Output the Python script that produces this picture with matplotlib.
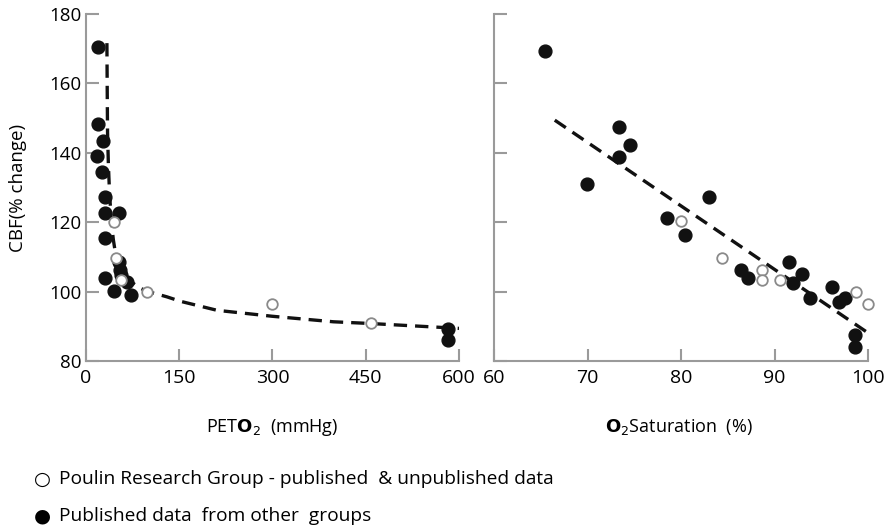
import numpy as np
import matplotlib
matplotlib.use("Agg")
import matplotlib.pyplot as plt

# CBF response vs end-tidal PO2 (left) and O2 saturation (right)
peto2_other = [18.7, 18.7, 17.6, 26.7, 25.6, 31, 31, 53.4, 31, 31, 45.4, 53.4, 55, 56, 65.7, 72, 582, 582]
cbf_peto2_other = [170.6, 148.3, 139.1, 143.5, 134.4, 127.2, 122.6, 122.6, 115.4, 103.8, 100.3, 108.6, 106.3, 104.7, 102.7, 99.0, 89.1, 86.0]
peto2_poulin = [44.3, 49, 56, 98.8, 299, 458]
cbf_peto2_poulin = [120.0, 109.6, 103.4, 99.9, 96.3, 91.0]
# dashed fit through PETO2 data
peto2_fit = [33.7, 34.2, 34.7, 36, 38, 41, 44, 46.6, 52, 58, 65.4, 75, 86.9, 100, 130, 152, 211, 299, 398, 458, 600]
cbf_peto2_fit = [171.6, 158, 146, 137, 128, 120, 115, 112, 108.5, 106, 104.3, 102.5, 101.0, 100, 98.5, 97.2, 94.6, 92.9, 91.3, 90.8, 89.4]

sat_other = [65.5, 73.4, 73.4, 74.5, 69.9, 83.0, 78.5, 80.4, 86.4, 87.2, 91.6, 92.0, 92.9, 93.8, 96.1, 96.9, 97.5, 98.6, 98.6]
cbf_sat_other = [169.3, 147.3, 138.9, 142.3, 131.0, 127.2, 121.1, 116.3, 106.3, 103.8, 108.4, 102.6, 105.0, 98.1, 101.4, 96.9, 98.1, 87.5, 83.9]
sat_poulin = [80.0, 84.4, 88.7, 88.7, 90.6, 98.7, 100]
cbf_sat_poulin = [120.2, 109.6, 106.1, 103.2, 103.3, 100.0, 96.3]
sat_fit = [66.5, 100]
cbf_sat_fit = [149.4, 88.1]

grey = '#9a9a9a'
plt.rcParams['font.family'] = ['Open Sans', 'DejaVu Sans']

fig = plt.figure(figsize=(8.88, 5.26), dpi=100)
ax1 = fig.add_axes([0.0968, 0.3137, 0.4201, 0.6597])
ax2 = fig.add_axes([0.5563, 0.3137, 0.4212, 0.6597])

def style(ax):
    for s in ['top', 'right']:
        ax.spines[s].set_visible(False)
    for s in ['left', 'bottom']:
        ax.spines[s].set_color(grey)
        ax.spines[s].set_linewidth(1.5)
    ax.tick_params(direction='in', length=9, width=1.5, color=grey, labelsize=13.5)
    ax.tick_params(axis='x', pad=6, labelsize=14)
    ax.set_ylim(80, 180)
    ax.set_yticks([80, 100, 120, 140, 160, 180])

ax1.set_xlim(0, 600)
ax1.set_xticks([0, 150, 300, 450, 600])
style(ax1)
ax1.set_ylabel('CBF(% change)', fontsize=13.5, labelpad=16)

ax2.set_xlim(60, 100)
ax2.set_xticks([60, 70, 80, 90, 100])
style(ax2)
ax2.tick_params(axis='y', labelleft=False)

for ax, x_fit, y_fit in [(ax1, peto2_fit, cbf_peto2_fit), (ax2, sat_fit, cbf_sat_fit)]:
    ax.plot(x_fit, y_fit, color='#111111', lw=2.4, dashes=(4, 2.4), zorder=2)

ax1.scatter(peto2_other, cbf_peto2_other, s=85, color='#111111', zorder=3, clip_on=False)
ax1.scatter(peto2_poulin, cbf_peto2_poulin, s=58, facecolor='white', edgecolor='#8a8a8a', lw=1.3, zorder=4, clip_on=False)
ax2.scatter(sat_other, cbf_sat_other, s=85, color='#111111', zorder=3, clip_on=False)
ax2.scatter(sat_poulin, cbf_sat_poulin, s=58, facecolor='white', edgecolor='#8a8a8a', lw=1.3, zorder=4, clip_on=False)

# axis titles under each panel
fig.text(0.307, 1 - 427 / 526, r'PET$\mathbf{O}_2$  (mmHg)', ha='center', va='center', fontsize=13)
fig.text(0.765, 1 - 427 / 526, r'$\mathbf{O}_2$Saturation  (%)', ha='center', va='center', fontsize=13)

# key
fig.text(42 / 888, 1 - 479 / 526, '○', ha='center', va='center', fontsize=14, family=['DejaVu Sans'])
fig.text(42 / 888, 1 - 516 / 526, '●', ha='center', va='center', fontsize=14, family=['DejaVu Sans'])
fig.text(59 / 888, 1 - 479 / 526, 'Poulin Research Group - published  & unpublished data', va='center', fontsize=13.8)
fig.text(59 / 888, 1 - 516 / 526, 'Published data  from other  groups', va='center', fontsize=13.8)

fig.savefig('out.png', dpi=100)
